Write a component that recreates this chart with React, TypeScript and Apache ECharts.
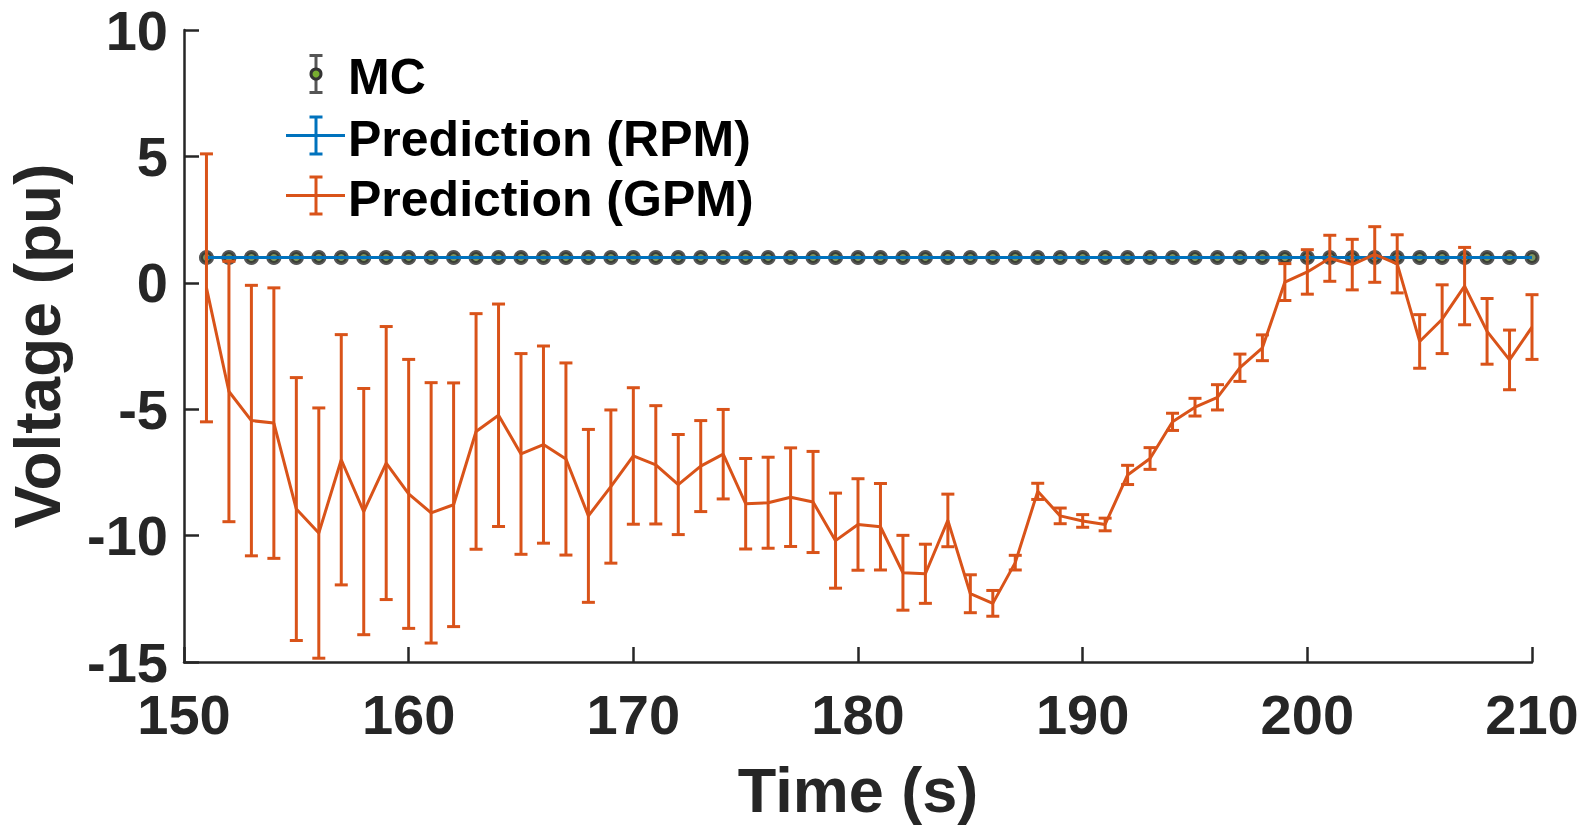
import React, { useEffect, useRef } from 'react';
import * as echarts from 'echarts';

// time stamps (s)
const times = [
  151, 152, 153, 154, 155, 156, 157, 158, 159, 160,
  161, 162, 163, 164, 165, 166, 167, 168, 169, 170,
  171, 172, 173, 174, 175, 176, 177, 178, 179, 180,
  181, 182, 183, 184, 185, 186, 187, 188, 189, 190,
  191, 192, 193, 194, 195, 196, 197, 198, 199, 200,
  201, 202, 203, 204, 205, 206, 207, 208, 209, 210,
];

// Monte Carlo reference (pu)
const mcMean = [
  1, 1, 1, 1, 1, 1, 1, 1, 1, 1,
  1, 1, 1, 1, 1, 1, 1, 1, 1, 1,
  1, 1, 1, 1, 1, 1, 1, 1, 1, 1,
  1, 1, 1, 1, 1, 1, 1, 1, 1, 1,
  1, 1, 1, 1, 1, 1, 1, 1, 1, 1,
  1, 1, 1, 1, 1, 1, 1, 1, 1, 1,
];

// RPM prediction (pu)
const rpmMean = [
  1, 1, 1, 1, 1, 1, 1, 1, 1, 1,
  1, 1, 1, 1, 1, 1, 1, 1, 1, 1,
  1, 1, 1, 1, 1, 1, 1, 1, 1, 1,
  1, 1, 1, 1, 1, 1, 1, 1, 1, 1,
  1, 1, 1, 1, 1, 1, 1, 1, 1, 1,
  1, 1, 1, 1, 1, 1, 1, 1, 1, 1,
];

// GPM prediction mean and half-width of error bar (pu)
const gpmMean = [
  -0.2, -4.3, -5.45, -5.55, -8.95, -9.9, -7.0, -9.05, -7.13, -8.35,
  -9.1, -8.78, -5.88, -5.24, -6.77, -6.4, -6.97, -9.22, -8.06, -6.85,
  -7.2, -7.98, -7.25, -6.78, -8.74, -8.7, -8.48, -8.67, -10.2, -9.56,
  -9.65, -11.47, -11.51, -9.4, -12.3, -12.68, -11.07, -8.25, -9.22, -9.42,
  -9.56, -7.6, -6.95, -5.5, -4.92, -4.53, -3.36, -2.57, 0.03, 0.43,
  0.97, 0.72, 1.12, 0.75, -2.32, -1.44, -0.13, -1.92, -3.05, -1.75,
];
const gpmErr = [
  5.3, 5.15, 5.35, 5.35, 5.2, 4.95, 4.95, 4.87, 5.4, 5.32,
  5.15, 4.82, 4.66, 4.4, 3.97, 3.9, 3.8, 3.42, 3.03, 2.7,
  2.34, 1.98, 1.8, 1.77, 1.79, 1.8, 1.95, 2.0, 1.88, 1.81,
  1.71, 1.48, 1.17, 1.04, 0.75, 0.51, 0.29, 0.32, 0.31, 0.25,
  0.25, 0.38, 0.43, 0.34, 0.35, 0.5, 0.54, 0.51, 0.73, 0.88,
  0.91, 1.0, 1.1, 1.15, 1.06, 1.36, 1.53, 1.3, 1.18, 1.28,
];

const xTicks = [150, 160, 170, 180, 190, 200, 210];
const yTicks = [-15, -10, -5, 0, 5, 10];

const BLUE = '#0072BD';
const ORANGE = '#D95319';
const AXIS = '#262626';
const FONT = '"Liberation Sans", Arial, Helvetica, sans-serif';

const errRender = (color: string) => (params: any, api: any) => {
  const x = api.value(0);
  const lo = api.coord([x, api.value(1)]);
  const hi = api.coord([x, api.value(2)]);
  const w = 6.5;
  const style = { stroke: color, lineWidth: 3 };
  return {
    type: 'group',
    children: [
      { type: 'line', shape: { x1: hi[0], y1: hi[1], x2: lo[0], y2: lo[1] }, style },
      { type: 'line', shape: { x1: hi[0] - w, y1: hi[1], x2: hi[0] + w, y2: hi[1] }, style },
      { type: 'line', shape: { x1: lo[0] - w, y1: lo[1], x2: lo[0] + w, y2: lo[1] }, style },
    ],
  };
};

function legendItem(y: number, color: string, label: string, cross: boolean): any[] {
  const s = { stroke: color, lineWidth: 3 };
  const items: any[] = [
    { type: 'line', shape: { x1: 316, y1: y - 18.5, x2: 316, y2: y + 18.5 }, style: s },
    { type: 'line', shape: { x1: 309.5, y1: y - 18.5, x2: 322.5, y2: y - 18.5 }, style: s },
    { type: 'line', shape: { x1: 309.5, y1: y + 18.5, x2: 322.5, y2: y + 18.5 }, style: s },
  ];
  if (cross) items.push({ type: 'line', shape: { x1: 286, y1: y, x2: 345, y2: y }, style: s });
  else items.push({ type: 'circle', shape: { cx: 316, cy: y, r: 5 }, style: { fill: '#77AC30', stroke: '#333', lineWidth: 3 } });
  items.push({
    type: 'text', x: 348, y: y + 3,
    style: { text: label, fill: '#000', font: `bold 50px ${FONT}`, verticalAlign: 'middle', align: 'left' },
  });
  return items;
}

export default function App() {
  const ref = useRef<HTMLDivElement | null>(null);

  useEffect(() => {
    if (!ref.current) return;
    const chart = echarts.init(ref.current, undefined, { renderer: 'svg' });
    const mcData = times.map((t, i) => [t, mcMean[i]]);
    const rpmData = times.map((t, i) => [t, rpmMean[i]]);
    const gpmData = times.map((t, i) => [t, gpmMean[i]]);
    const gpmBars = times.map((t, i) => [t, gpmMean[i] - gpmErr[i], gpmMean[i] + gpmErr[i]]);

    const axisLineStyle = { color: AXIS, width: 2.5 };
    const axisCommon = {
      type: 'value',
      axisTick: { show: true, inside: true, length: 15, lineStyle: axisLineStyle },
      splitLine: { show: false },
    };

    chart.setOption({
      animation: false,
      backgroundColor: '#fff',
      grid: { left: 184, right: 56, top: 30, bottom: 166, containLabel: false, outerBoundsMode: 'none' },
      xAxis: {
        ...axisCommon,
        axisLine: { show: true, onZero: false, lineStyle: axisLineStyle },
        min: xTicks[0], max: xTicks[xTicks.length - 1], interval: 10,
        name: 'Time (s)', nameLocation: 'middle', nameGap: 96,
        nameTextStyle: { color: AXIS, fontFamily: FONT, fontWeight: 'bold', fontSize: 63 },
        axisLabel: { color: AXIS, fontFamily: FONT, fontWeight: 'bold', fontSize: 56, margin: 24 },
      },
      yAxis: {
        ...axisCommon,
        axisLine: { show: true, onZero: false, lineStyle: axisLineStyle },
        min: yTicks[0], max: yTicks[yTicks.length - 1], interval: 5,
        name: 'Voltage (pu)', nameLocation: 'middle', nameGap: 114,
        nameTextStyle: { color: AXIS, fontFamily: FONT, fontWeight: 'bold', fontSize: 64, lineHeight: 64 },
        axisLabel: { color: AXIS, fontFamily: FONT, fontWeight: 'bold', fontSize: 56, margin: 16 },
      },
      series: [
        {
          name: 'MC', type: 'scatter', data: mcData, symbol: 'circle', symbolSize: 11, z: 2,
          itemStyle: { color: '#5d7a3a', borderColor: '#2a2a2a', borderWidth: 4 },
        },
        {
          name: 'Prediction (RPM)', type: 'line', data: rpmData, showSymbol: false, symbol: 'none', z: 3,
          lineStyle: { color: BLUE, width: 3 },
        },
        {
          name: 'GPM err', type: 'custom', data: gpmBars, renderItem: errRender(ORANGE), z: 4,
          encode: { x: 0, y: [1, 2] },
        },
        {
          name: 'Prediction (GPM)', type: 'line', data: gpmData, showSymbol: false, symbol: 'none', z: 5,
          lineStyle: { color: ORANGE, width: 3 },
        },
      ],
      graphic: [
        ...legendItem(74, '#555', 'MC', false),
        ...legendItem(135.5, BLUE, 'Prediction (RPM)', true),
        ...legendItem(195.5, ORANGE, 'Prediction (GPM)', true),
      ],
    });
    return () => { chart.dispose(); };
  }, []);

  return <div ref={ref} style={{ position: 'absolute', left: 0, top: 0, width: 1588, height: 828 }} />;
}
